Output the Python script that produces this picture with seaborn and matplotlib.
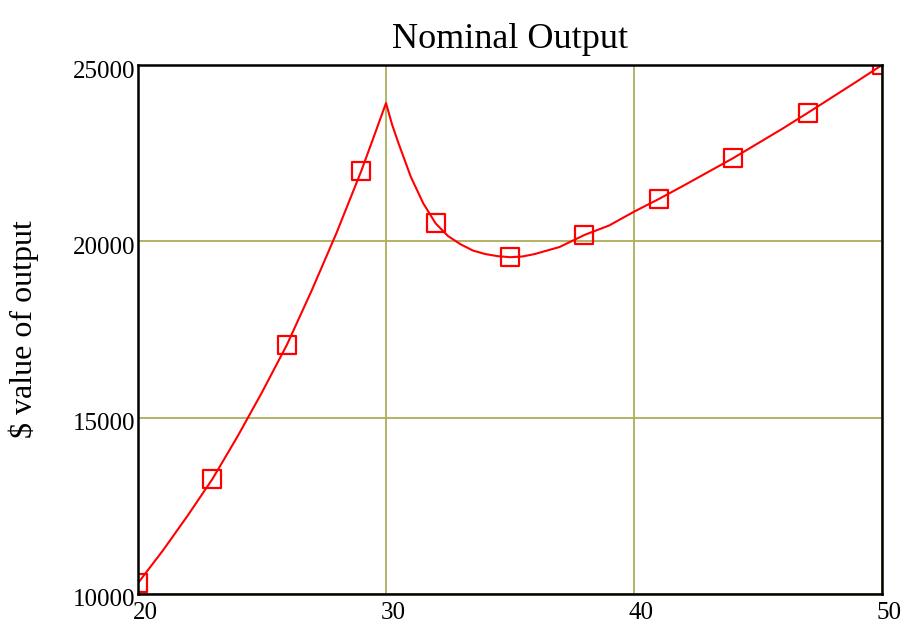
import matplotlib
matplotlib.use("Agg")
import matplotlib.pyplot as plt
import matplotlib.transforms as mtransforms
import seaborn as sns
import pandas as pd

# Data
x_vals = [20, 21, 22, 23, 24, 25, 26, 27, 28, 29, 29.5, 30, 30.25, 30.5, 31, 31.5, 32, 32.5, 33,
          33.5, 34, 34.5, 35, 35.5, 36, 37, 38, 39, 40, 41, 42, 43, 44, 45, 46, 47, 48, 49, 50]
y_vals = [10310, 11230, 12220, 13260, 14450, 15720, 17060, 18600, 20230, 21990, 22950, 23920,
          23300, 22790, 21830, 21080, 20510, 20150, 19920, 19740, 19640, 19580, 19550, 19570,
          19640, 19840, 20180, 20450, 20840, 21200, 21580, 21970, 22360, 22780, 23200, 23640,
          24090, 24540, 25000]
marker_x = [20, 23, 26, 29, 32, 35, 38, 41, 44, 47, 50]

title_text = "Nominal Output"
ylabel_text = "$ value of output"
xticks = [20, 30, 40, 50]
yticks = [10000, 15000, 20000, 25000]

df = pd.DataFrame({"x": x_vals, "y": y_vals})
dm = df[df["x"].isin(marker_x)]

sns.set_theme(style="white")
plt.rcParams["font.family"] = ["Liberation Serif", "DejaVu Serif"]
plt.rcParams["mathtext.default"] = "regular"

fig = plt.figure(figsize=(9.07, 6.27), dpi=100)
ax = fig.add_axes([138/907, 33/627, (882-138)/907, (594-65)/627])

sns.lineplot(data=df, x="x", y="y", ax=ax, color="#ff0000", linewidth=1.5, zorder=3)
sns.scatterplot(data=dm, x="x", y="y", ax=ax, marker="s", s=170,
                facecolor="none", edgecolor="#ff0000", linewidth=1.6, zorder=4, clip_on=True)

ax.set_xlim(20, 50)
ax.set_ylim(10000, 25000)
ax.set_xticks(xticks)
ax.set_yticks(yticks)
ax.set_xticklabels([str(t) for t in xticks], fontsize=18)
ax.set_yticklabels([str(t) for t in yticks], fontsize=18)
ax.tick_params(axis="x", length=0, pad=6, colors="black")
ax.tick_params(axis="y", length=0, pad=2, colors="black")

xoff = mtransforms.ScaledTranslation(7/100, 0, fig.dpi_scale_trans)
for lbl in ax.get_xticklabels():
    lbl.set_transform(lbl.get_transform() + xoff)
yoff = mtransforms.ScaledTranslation(0, -4/100, fig.dpi_scale_trans)
for lbl in ax.get_yticklabels():
    lbl.set_transform(lbl.get_transform() + yoff)

ax.grid(True, color="#adad5a", linewidth=1.3)
ax.set_axisbelow(True)
for sp in ax.spines.values():
    sp.set_color("black")
    sp.set_linewidth(1.8)
    sp.set_zorder(5)

ax.set_xlabel("")
ax.set_ylabel(ylabel_text.replace("$", r"\$"), fontsize=23, color="black")
ax.yaxis.set_label_coords(-(138-39)/744, 0.5)
ax.set_title(title_text, fontsize=26, pad=12, color="black")

fig.savefig("out.png", dpi=100, facecolor="white")
